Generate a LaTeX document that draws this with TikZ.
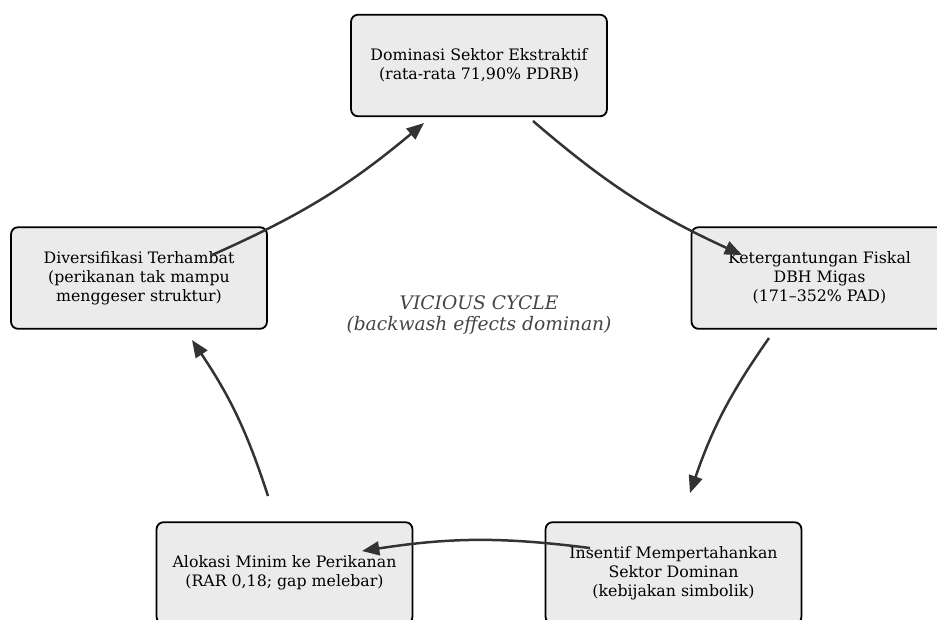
\documentclass[tikz,border=0pt]{standalone}
\usepackage{fontspec}
\setmainfont{DejaVu Serif}
\usepackage{tikz}
\usetikzlibrary{arrows.meta}
\definecolor{boxfill}{HTML}{EBEBEB}
\definecolor{arrowgray}{HTML}{333333}
\definecolor{textgray}{HTML}{444444}
\tikzset{> = { Triangle[length = 12.5pt, width = 10pt] }}
\tikzset{box/.style = { draw, line width = 1.3pt, rounded corners = 5pt, fill = boxfill, minimum width = 6.5cm, minimum height = 2.58cm, align = center, font = \fontsize{11.4}{13.8}\selectfont }}
\tikzset{flow/.style = { ->, line width = 1.8pt, draw = arrowgray, bend right = 8 }}

\begin{document}
\begin{tikzpicture}[x = 0.0254cm, y = -0.0254cm]
	\useasboundingbox (0, 0) rectangle (937, 619);
	\clip (0, 0) rectangle (937, 619);

	% Boxes.
	\node [box] (a) at (479, 65.5) {Dominasi Sektor Ekstraktif\\(rata-rata 71,90\% PDRB)};
	\node [box] (b) at (819.5, 278) {Ketergantungan Fiskal\\DBH Migas\\(171–352\% PAD)};
	\node [box] (c) at (673.5, 573) {Insentif Mempertahankan\\Sektor Dominan\\(kebijakan simbolik)};
	\node [box] (d) at (284.5, 573) {Alokasi Minim ke Perikanan\\(RAR 0,18; gap melebar)};
	\node [box] (e) at (139, 278) {Diversifikasi Terhambat\\(perikanan tak mampu\\menggeser struktur)};

	\node [align = center, text = textgray, font = \fontsize{13.5}{14.6}\selectfont\itshape] (m) at (479, 315) {VICIOUS CYCLE\\(backwash effects dominan)};

	% Arrow ends.
	\coordinate (A1) at (533, 121);
	\coordinate (B1) at (742, 255);
	\coordinate (B2) at (769, 338);
	\coordinate (C1) at (690, 493);
	\coordinate (C2) at (590, 548);
	\coordinate (D1) at (362, 551);
	\coordinate (D2) at (268, 496);
	\coordinate (E1) at (192, 340);
	\coordinate (E2) at (212, 255);
	\coordinate (A2) at (424, 123);

	\draw [flow] (A1) to (B1);
	\draw [flow] (B2) to (C1);
	\draw [flow] (C2) to (D1);
	\draw [flow] (D2) to (E1);
	\draw [flow] (E2) to (A2);
\end{tikzpicture}
\end{document}
